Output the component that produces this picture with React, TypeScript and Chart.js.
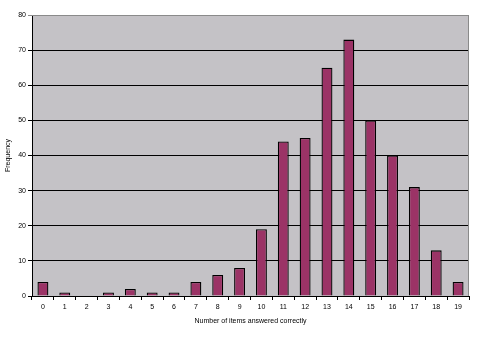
import React, { useEffect, useRef } from "react";
import { Chart, registerables } from "chart.js";

Chart.register(...registerables);

const categories = ["0","1","2","3","4","5","6","7","8","9","10","11","12","13","14","15","16","17","18","19"];
const frequency = [4, 1, 0, 1, 2, 1, 1, 4, 6, 8, 19, 44, 45, 65, 73, 50, 40, 31, 13, 4];
const xTitle = "Number of items answered correctly";
const yTitle = "Frequency";

const plotBg = {
  id: "plotBg",
  beforeDraw(chart: any) {
    const { ctx, chartArea: a } = chart;
    ctx.save();
    ctx.fillStyle = "#c4c2c6";
    ctx.fillRect(a.left, a.top, a.right - a.left, a.bottom - a.top);
    ctx.restore();
  },
  afterDatasetsDraw(chart: any) {
    const { ctx, chartArea: a } = chart;
    ctx.save();
    ctx.strokeStyle = "#8a8a8a";
    ctx.lineWidth = 1;
    ctx.beginPath();
    ctx.moveTo(a.left, a.top + 0.5);
    ctx.lineTo(a.right - 0.5, a.top + 0.5);
    ctx.lineTo(a.right - 0.5, a.bottom);
    ctx.stroke();
    ctx.restore();
  },
};

export default function App() {
  const ref = useRef<HTMLCanvasElement>(null);
  useEffect(() => {
    const font = { family: "'Liberation Sans', Arial, sans-serif", size: 7 };
    const chart = new Chart(ref.current!, {
      type: "bar",
      data: {
        labels: categories,
        datasets: [
          {
            data: frequency,
            backgroundColor: "#9b3366",
            borderColor: "#000000",
            borderWidth: 1.3,
            categoryPercentage: 1,
            barPercentage: 0.5,
          },
        ],
      },
      options: {
        animation: false,
        responsive: false,
        maintainAspectRatio: false,
        layout: { padding: { top: 15, right: 9, left: 4, bottom: 12 } },
        plugins: { legend: { display: false }, tooltip: { enabled: false } },
        scales: {
          x: {
            offset: true,
            grid: {
              offset: true,
              drawOnChartArea: false,
              color: "#000",
              tickLength: 4,
            },
            border: { color: "#000", width: 1 },
            ticks: { color: "#000", font, padding: 3, maxRotation: 0, autoSkip: false },
            title: { display: true, text: xTitle, color: "#000", font, padding: { top: 2, bottom: 0 } },
            afterFit(scale: any) {
              scale.height = 337 - 296 - 12;
            },
          },
          y: {
            min: 0,
            max: 80,
            ticks: { stepSize: 10, color: "#000", font, padding: 2 },
            grid: {
              color: (c: any) => (c.tick && c.tick.value === 80 ? "#8a8a8a" : "#000"),
              tickLength: 4,
            },
            border: { color: "#000", width: 1 },
            title: { display: true, text: yTitle, color: "#000", font, padding: { top: 0, bottom: 4 } },
            afterFit(scale: any) {
              scale.width = 32 - 4;
            },
          },
        },
      },
      plugins: [plotBg],
    });
    return () => chart.destroy();
  }, []);
  return (
    <div style={{ position: "absolute", left: 0, top: 0, width: 478, height: 337, background: "#fff" }}>
      <canvas ref={ref} width={478} height={337} style={{ display: "block" }} />
    </div>
  );
}
